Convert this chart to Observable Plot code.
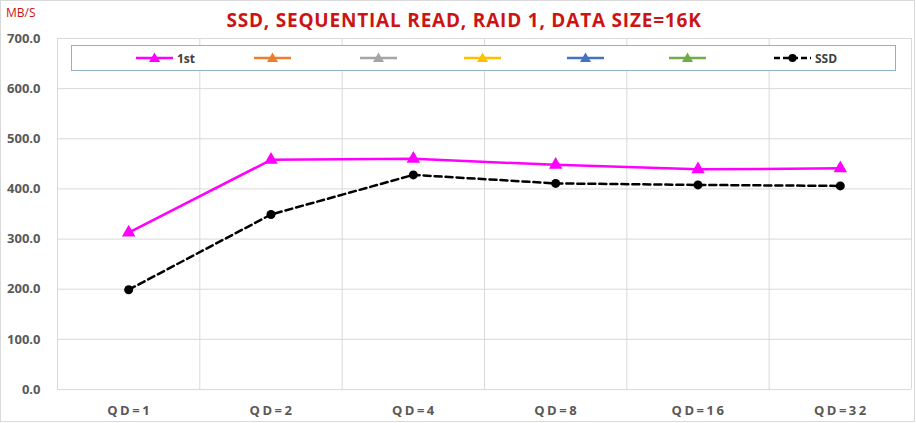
<!DOCTYPE html>
<html>
<head>
<meta charset="utf-8">
<script src="https://cdn.jsdelivr.net/npm/d3@7"></script>
<script src="https://cdn.jsdelivr.net/npm/@observablehq/plot@0.6"></script>
<style>
  html, body { margin: 0; padding: 0; background: #fff; }
  #wrap { position: relative; width: 916px; height: 423px; overflow: hidden; font-family: "Open Sans", sans-serif; }
  #frame { position: absolute; left: 0; top: 0; width: 913px; height: 420px; border: 1px solid #d9d9d9; pointer-events: none; }
  #title { position: absolute; left: 0; width: 928px; top: 7px; text-align: center; color: #cc1414; font-weight: 700; font-size: 19px; letter-spacing: 0.8px; }
  #unit { position: absolute; left: 6px; top: 4px; color: #cc1414; font-size: 12px; }
  #legend { position: absolute; left: 71px; top: 45px; width: 823px; height: 24px; border: 1px solid #8fb2c9; background: #fff; }
  .item { position: absolute; top: 0; height: 24px; display: flex; align-items: center; font-weight: 700; font-size: 12px; color: #404040; }
  .item svg { display: block; }
  #chart svg g[aria-label="x-axis tick label"] text { letter-spacing: 2.5px; }
</style>
</head>
<body>
<div id="wrap">
  <div id="chart"></div>
  <div id="title"></div>
  <div id="unit"></div>
  <div id="legend"></div>
  <div id="frame"></div>
</div>
<script>
const titleText = "SSD, SEQUENTIAL READ, RAID 1, DATA SIZE=16K";
const unitText = "MB/S";
const categories = ["QD=1", "QD=2", "QD=4", "QD=8", "QD=16", "QD=32"];
const firstValues = [313, 458, 460, 448, 439, 441];
const ssdValues = [199, 349, 428, 411, 408, 406];
const yTicks = [0, 100, 200, 300, 400, 500, 600, 700];
const legendNames = ["1st", "", "", "", "", "", "SSD"];
const legendColors = ["#ff00ff", "#ed7d31", "#a5a5a5", "#ffc000", "#4472c4", "#70ad47", "#000000"];
const legendLefts = [64, 182, 288, 392, 495, 597, 702];

document.getElementById("title").textContent = titleText;
document.getElementById("unit").textContent = unitText;

const firstData = categories.map((c, i) => ({i: i + 0.5, v: firstValues[i]}));
const ssdData = categories.map((c, i) => ({i: i + 0.5, v: ssdValues[i]}));
const bandEdges = d3.range(0, categories.length + 1);
const centers = categories.map((c, i) => i + 0.5);

const chart = Plot.plot({
  width: 916,
  height: 423,
  marginTop: 38,
  marginBottom: 34,
  marginLeft: 57,
  marginRight: 5,
  style: {fontFamily: "Open Sans, sans-serif", background: "transparent", overflow: "visible"},
  x: {domain: [0, categories.length], axis: null},
  y: {domain: [0, 700], axis: null},
  marks: [
    Plot.ruleY(yTicks, {stroke: "#d9d9d9", strokeWidth: 1}),
    Plot.ruleX(bandEdges, {stroke: "#d9d9d9", strokeWidth: 1}),
    Plot.axisY(yTicks, {
      tickSize: 0, tickPadding: 17, tickFormat: d => d.toFixed(1),
      fontSize: 13, fontWeight: 700, fill: "#595959", label: null
    }),
    Plot.axisX(centers, {
      tickSize: 0, tickPadding: 16, tickFormat: (d, k) => categories[k],
      fontSize: 13, fontWeight: 700, fill: "#595959", label: null, dx: 1
    }),
    Plot.line(firstData, {x: "i", y: "v", stroke: "#ff00ff", strokeWidth: 2.5}),
    Plot.dot(firstData, {x: "i", y: "v", symbol: "triangle", r: 5, fill: "#ff00ff", stroke: "none"}),
    Plot.line(ssdData, {x: "i", y: "v", stroke: "#000", strokeWidth: 2.5, strokeDasharray: "7,4"}),
    Plot.dot(ssdData, {x: "i", y: "v", r: 4.5, fill: "#000", stroke: "none"})
  ]
});
document.getElementById("chart").appendChild(chart);

// legend
const legend = document.getElementById("legend");
legendNames.forEach((name, k) => {
  const item = document.createElement("div");
  item.className = "item";
  item.style.left = legendLefts[k] + "px";
  const isSSD = k === legendNames.length - 1;
  const ns = "http://www.w3.org/2000/svg";
  const svg = document.createElementNS(ns, "svg");
  svg.setAttribute("width", 38);
  svg.setAttribute("height", 14);
  const line = document.createElementNS(ns, "line");
  line.setAttribute("x1", 0); line.setAttribute("x2", 37);
  line.setAttribute("y1", 7); line.setAttribute("y2", 7);
  line.setAttribute("stroke", legendColors[k]);
  line.setAttribute("stroke-width", 2.5);
  if (isSSD) line.setAttribute("stroke-dasharray", "6,3");
  svg.appendChild(line);
  if (isSSD) {
    const c = document.createElementNS(ns, "circle");
    c.setAttribute("cx", 18.5); c.setAttribute("cy", 7); c.setAttribute("r", 4);
    c.setAttribute("fill", legendColors[k]);
    svg.appendChild(c);
  } else {
    const p = document.createElementNS(ns, "path");
    p.setAttribute("d", "M18.5,1.5 L24,11 L13,11 Z");
    p.setAttribute("fill", legendColors[k]);
    svg.appendChild(p);
  }
  item.appendChild(svg);
  if (name) {
    const t = document.createElement("span");
    t.textContent = name;
    t.style.marginLeft = "3px";
    item.appendChild(t);
  }
  legend.appendChild(item);
});
</script>
</body>
</html>
